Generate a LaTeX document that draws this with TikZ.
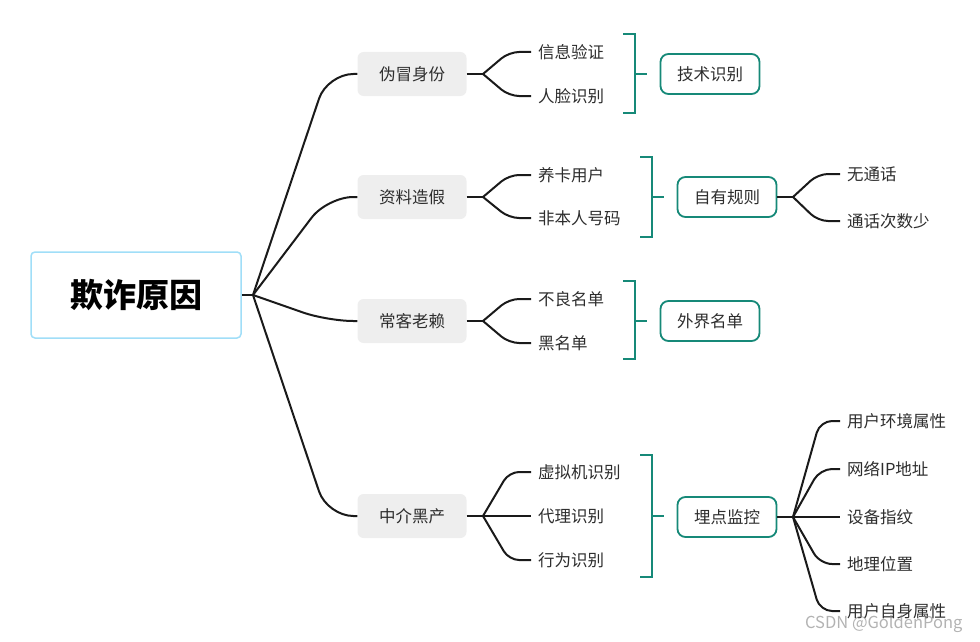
\documentclass[tikz,border=0pt]{standalone}
\usepackage{fontspec}
\setmainfont{Noto Sans CJK SC}
\usetikzlibrary{calc}
\definecolor{cor_teal}{RGB}{22,137,120}
\definecolor{cor_sky}{RGB}{160,222,248}
\definecolor{cor_gray}{RGB}{238,238,238}
\definecolor{cor_line}{RGB}{26,26,26}
\definecolor{cor_text}{RGB}{45,45,45}

\begin{document}
\begin{tikzpicture}[x=1pt, y={(0pt,-1pt)}]
        \tikzset{
            raiz/.style={
                draw=cor_sky,
                line width=1.5pt,
                rounded corners=4pt,
                fill=white,
                minimum width=210pt,
                minimum height=86pt,
                font=\fontsize{33}{38}\selectfont\bfseries
            },
            tema/.style={
                fill=cor_gray,
                rounded corners=6pt,
                minimum width=109pt,
                minimum height=44pt,
                text=cor_text,
                font=\fontsize{16.5}{19}\selectfont
            },
            folha/.style={
                anchor=west,
                inner xsep=7pt,
                inner ysep=2pt,
                text=cor_text,
                font=\fontsize{16.5}{19}\selectfont
            },
            caixa/.style={
                draw=cor_teal,
                line width=1.8pt,
                rounded corners=8pt,
                fill=white,
                minimum width=99pt,
                minimum height=40pt,
                text=cor_text,
                font=\fontsize{16.5}{19}\selectfont
            },
            ramo/.style={draw=cor_line, line width=2pt, rounded corners=#1},
            ramo/.default=14pt,
            chave/.style={draw=cor_teal, line width=2pt}
        }
        \useasboundingbox (0,0) rectangle (980,642);

        % raiz e primeiro nivel
        \node[raiz] (raiz) at (136,295) {欺诈原因};
        \coordinate (h0) at (253,295);
        \draw[ramo] (raiz.east) -- (h0);

        \node[tema] (fm) at (412,74) {伪冒身份};
        \node[tema] (zl) at (412,197) {资料造假};
        \node[tema] (ck) at (412,321) {常客老赖};
        \node[tema] (zj) at (412,516) {中介黑产};

        \foreach \t in {fm,zl,ck,zj} {
            \draw[ramo=26pt] (h0) -- ($(\t.west)+(-30,0)$) -- (\t.west);
        }

        % segundo nivel
        \coordinate (hfm) at (483,74);
        \coordinate (hzl) at (483,197);
        \coordinate (hck) at (483,321);
        \coordinate (hzj) at (483,516);
        \foreach \t in {fm,zl,ck,zj} {
            \draw[ramo] (\t.east) -- (h\t);
        }

        \foreach \y/\txt [count=\i] in {52/信息验证, 96/人脸识别} {
            \node[folha] (fm\i) at (531,\y) {\txt};
            \draw[ramo=10pt] (hfm) -- ($(fm\i.west)+(-22,0)$) -- (fm\i.west);
        }
        \foreach \y/\txt [count=\i] in {175/养卡用户, 218/非本人号码} {
            \node[folha] (zl\i) at (531,\y) {\txt};
            \draw[ramo=10pt] (hzl) -- ($(zl\i.west)+(-22,0)$) -- (zl\i.west);
        }
        \foreach \y/\txt [count=\i] in {299/不良名单, 343/黑名单} {
            \node[folha] (ck\i) at (531,\y) {\txt};
            \draw[ramo=10pt] (hck) -- ($(ck\i.west)+(-22,0)$) -- (ck\i.west);
        }
        \foreach \y/\txt [count=\i] in {472/虚拟机识别, 516/代理识别, 560/行为识别} {
            \node[folha] (zj\i) at (531,\y) {\txt};
            \draw[ramo=10pt] (hzj) -- ($(zj\i.west)+(-22,0)$) -- (zj\i.west);
        }

        % chaves
        \draw[chave] (623,34) -- (635,34) -- (635,113) -- (623,113);
        \draw[chave] (635,74) -- (647,74);
        \draw[chave] (640,157) -- (652,157) -- (652,237) -- (640,237);
        \draw[chave] (652,197) -- (664,197);
        \draw[chave] (623,281) -- (635,281) -- (635,359) -- (623,359);
        \draw[chave] (635,321) -- (647,321);
        \draw[chave] (640,455) -- (652,455) -- (652,577) -- (640,577);
        \draw[chave] (652,516) -- (664,516);

        \node[caixa] (js) at (710,74) {技术识别};
        \node[caixa] (zy) at (727,197) {自有规则};
        \node[caixa] (wj) at (710,321) {外界名单};
        \node[caixa] (md) at (727,517) {埋点监控};

        % terceiro nivel
        \coordinate (hzy) at (793,197);
        \coordinate (hmd) at (793,517);
        \draw[ramo] (zy.east) -- (hzy);
        \draw[ramo] (md.east) -- (hmd);

        \foreach \y/\txt [count=\i] in {174/无通话, 221/通话次数少} {
            \node[folha] (zy\i) at (840,\y) {\txt};
            \draw[ramo=10pt] (hzy) -- ($(zy\i.west)+(-22,0)$) -- (zy\i.west);
        }
        \foreach \y/\txt [count=\i] in {421/用户环境属性, 469/网络IP地址, 517/设备指纹, 564/地理位置, 611/用户自身属性} {
            \node[folha] (md\i) at (840,\y) {\txt};
            \draw[ramo=12pt] (hmd) -- ($(md\i.west)+(-20,0)$) -- (md\i.west);
        }

        \node[anchor=east, text=gray, opacity=0.6, font=\fontsize{16.5}{20}\selectfont] (marca) at (966,624) {CSDN @GoldenPong};

    \end{tikzpicture}
\end{document}
